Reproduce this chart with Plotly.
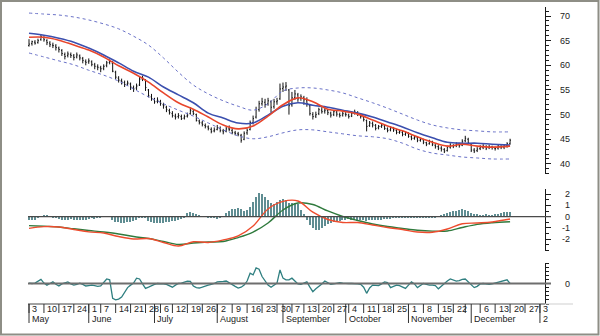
import pandas as pd
import plotly.graph_objects as go

# ---------------- daily price bars (trading-day index 0 = 3 May 1999) ----------------
OPEN = [64.0, 64.4, 64.7, 64.6, 65.2, 65.6, 65.0, 64.5, 64.1, 63.9,
        63.5, 63.0, 62.2, 62.0, 62.2, 61.9, 61.7, 61.9, 61.4, 60.8,
        60.7, 60.7, 60.1, 59.7, 59.5, 59.4, 60.0, 60.6, 60.4, 58.6,
        57.4, 56.9, 56.5, 56.2, 56.2, 55.5, 55.4, 56.0, 57.2, 57.0,
        55.0, 53.6, 53.0, 52.7, 52.6, 52.0, 51.5, 50.8, 50.2, 49.7,
        49.6, 49.6, 49.3, 49.7, 50.2, 50.6, 50.0, 48.7, 48.3, 47.8,
        47.5, 47.0, 46.7, 47.0, 47.2, 46.7, 46.6, 47.1, 46.8, 46.3,
        46.1, 45.8, 45.0, 46.3, 47.0, 48.4, 49.5, 51.0, 52.2, 52.5,
        52.2, 52.6, 51.6, 52.6, 53.2, 55.3, 55.6, 55.0, 52.0, 53.5,
        54.0, 53.3, 53.4, 52.8, 51.8, 50.0, 49.7, 50.2, 50.9, 50.7,
        50.8, 50.3, 50.0, 50.5, 50.0, 49.9, 50.1, 49.9, 49.7, 50.3,
        50.4, 49.9, 49.5, 48.8, 47.8, 48.2, 47.8, 47.3, 47.6, 47.7,
        47.1, 46.9, 47.2, 46.8, 46.4, 46.4, 46.0, 46.2, 45.5, 45.2,
        45.3, 44.8, 44.9, 44.3, 44.1, 44.5, 43.8, 43.5, 43.2, 42.9,
        42.7, 43.4, 43.7, 43.7, 43.9, 43.8, 44.7, 45.0, 44.0, 42.8,
        42.7, 43.1, 43.3, 43.5, 43.3, 43.4, 43.2, 43.2, 43.5, 43.4,
        43.7, 44.1]
HIGH = [65.3, 65.0, 65.1, 65.4, 66.3, 65.9, 65.3, 64.9, 64.6, 64.3,
        63.8, 63.3, 62.6, 62.8, 62.6, 62.3, 62.6, 62.2, 61.7, 61.2,
        61.4, 61.0, 60.5, 60.2, 59.9, 60.2, 60.9, 61.2, 60.9, 58.9,
        57.8, 57.3, 56.9, 56.9, 56.5, 55.9, 56.3, 57.8, 57.9, 57.2,
        55.2, 54.2, 53.4, 53.5, 53.0, 52.4, 51.8, 51.2, 50.7, 50.2,
        50.3, 50.0, 50.0, 50.4, 51.5, 51.0, 50.2, 49.0, 48.7, 48.2,
        47.8, 47.4, 47.4, 47.9, 47.6, 47.1, 47.6, 47.8, 47.2, 46.7,
        46.5, 46.1, 46.6, 47.2, 48.8, 49.8, 51.6, 52.8, 53.4, 53.2,
        53.4, 52.9, 53.2, 53.4, 56.3, 56.5, 56.6, 55.2, 54.6, 55.0,
        54.4, 54.1, 53.8, 53.5, 52.0, 50.5, 50.6, 51.4, 51.5, 51.3,
        51.1, 50.6, 50.9, 50.8, 50.4, 50.6, 50.5, 50.2, 50.7, 51.0,
        50.7, 50.2, 49.7, 49.0, 48.7, 48.6, 48.1, 47.9, 48.3, 48.0,
        47.4, 47.6, 47.5, 47.1, 46.9, 46.7, 46.6, 46.4, 45.8, 45.7,
        45.5, 45.3, 45.1, 44.5, 44.9, 44.7, 44.0, 43.8, 43.6, 43.2,
        43.7, 44.2, 44.0, 44.4, 44.2, 45.0, 45.7, 45.3, 44.2, 43.2,
        43.4, 43.8, 44.0, 43.8, 43.9, 43.7, 43.5, 43.9, 43.8, 43.9,
        44.4, 45.1]
LOW = [63.8, 64.0, 64.2, 64.4, 65.0, 64.8, 64.1, 63.7, 63.5, 63.0,
       62.6, 61.9, 61.2, 61.6, 61.5, 61.0, 61.4, 61.0, 60.4, 60.0,
       60.3, 59.8, 59.2, 59.0, 58.6, 59.0, 59.6, 60.2, 58.6, 57.2,
       56.5, 56.1, 55.6, 55.8, 55.0, 54.6, 55.0, 55.8, 56.8, 54.8,
       53.5, 52.8, 52.2, 52.3, 51.8, 51.2, 50.5, 50.0, 49.4, 49.0,
       49.2, 48.9, 49.0, 49.4, 50.0, 49.9, 48.6, 48.0, 47.6, 47.2,
       46.8, 46.2, 46.4, 46.8, 46.4, 46.0, 46.4, 46.6, 46.0, 45.8,
       45.6, 44.3, 44.8, 45.9, 46.8, 48.0, 49.2, 50.6, 51.8, 51.4,
       51.8, 50.4, 51.2, 52.0, 53.0, 54.6, 54.8, 50.0, 51.6, 53.0,
       52.6, 52.8, 52.0, 51.6, 49.8, 49.0, 49.3, 49.9, 50.2, 50.2,
       49.9, 49.4, 49.7, 49.6, 49.4, 49.6, 49.6, 49.2, 49.5, 50.0,
       49.7, 49.2, 48.6, 46.6, 47.5, 47.4, 46.8, 47.0, 47.3, 46.9,
       46.4, 46.6, 46.5, 46.0, 46.1, 45.6, 45.7, 45.3, 44.8, 44.9,
       44.4, 44.5, 44.0, 43.6, 43.9, 43.6, 43.1, 42.8, 42.5, 42.2,
       42.5, 43.1, 43.2, 43.4, 43.3, 43.6, 44.4, 44.0, 42.4, 42.2,
       42.4, 42.8, 43.0, 42.8, 43.0, 42.9, 42.7, 42.9, 43.0, 43.0,
       43.3, 43.9]
CLOSE = [64.3, 64.8, 64.5, 65.0, 65.8, 65.2, 64.6, 64.2, 64.0, 63.6,
         63.2, 62.4, 61.8, 62.3, 62.0, 61.6, 62.1, 61.5, 61.0, 60.6,
         60.9, 60.2, 59.8, 59.6, 59.3, 59.8, 60.5, 60.8, 58.8, 57.6,
         57.0, 56.6, 56.1, 56.4, 55.6, 55.2, 55.8, 57.2, 57.4, 55.5,
         53.8, 53.2, 52.6, 52.9, 52.3, 51.8, 51.0, 50.4, 49.8, 49.5,
         49.8, 49.2, 49.6, 49.9, 50.8, 50.2, 48.8, 48.4, 48.0, 47.6,
         47.2, 46.6, 46.9, 47.3, 46.8, 46.5, 47.1, 47.0, 46.4, 46.2,
         46.0, 44.8, 46.2, 46.8, 48.4, 49.2, 51.0, 52.2, 52.6, 52.0,
         52.8, 51.5, 52.6, 52.8, 55.2, 55.6, 55.8, 51.8, 53.4, 54.2,
         53.2, 53.6, 53.0, 52.2, 50.2, 49.6, 50.0, 51.0, 50.6, 50.9,
         50.4, 49.9, 50.6, 50.1, 49.8, 50.2, 50.0, 49.6, 50.3, 50.5,
         50.0, 49.6, 49.0, 47.6, 48.3, 47.9, 47.2, 47.6, 47.8, 47.2,
         46.8, 47.3, 46.9, 46.4, 46.5, 46.0, 46.3, 45.6, 45.2, 45.4,
         44.8, 45.0, 44.4, 44.0, 44.6, 43.9, 43.5, 43.2, 43.0, 42.6,
         43.4, 43.8, 43.6, 44.0, 43.7, 44.6, 45.2, 44.3, 42.8, 42.6,
         43.0, 43.4, 43.6, 43.2, 43.5, 43.3, 43.1, 43.6, 43.4, 43.6,
         44.1, 44.8]

# ---------------- overlay lines, read every 5 trading days ----------------
STEP_IDX = [0, 5, 10, 15, 20, 25, 30, 35, 40, 45, 50, 55, 60, 65, 70, 75, 80,
            85, 90, 95, 100, 105, 110, 115, 120, 125, 130, 135, 140, 145, 150, 155, 161]
MA_FAST = [65.7, 65.7, 65.1, 64.1, 63.1, 61.7, 59.9, 58.4, 56.6, 54.4, 52.4,
           51.1, 49.5, 47.9, 47.1, 47.7, 49.7, 52.0, 53.4, 52.6, 51.1, 50.7,
           50.1, 48.9, 47.7, 46.7, 45.5, 44.4, 43.6, 44.0, 43.6, 43.4, 43.6]
MA_SLOW = [66.5, 66.1, 65.5, 64.7, 63.5, 62.1, 60.5, 58.8, 57.6, 55.6, 54.0,
           52.4, 50.3, 49.3, 48.3, 48.3, 49.9, 51.7, 52.4, 51.9, 51.5, 50.9,
           50.3, 49.5, 48.5, 47.5, 46.3, 45.3, 44.4, 44.2, 44.2, 44.0, 43.8]
BAND_UP = [70.6, 70.4, 70.2, 69.8, 69.2, 68.4, 67.4, 65.9, 64.1, 61.5, 58.6,
           56.0, 54.2, 52.8, 51.7, 50.9, 52.2, 54.8, 55.4, 55.4, 55.0, 54.4,
           53.4, 52.4, 51.3, 50.1, 48.9, 47.9, 47.3, 46.9, 46.7, 46.5, 46.5]
BAND_LO = [62.5, 61.7, 60.9, 60.1, 59.0, 58.0, 56.8, 55.2, 53.6, 52.2, 50.9,
           49.7, 48.3, 46.9, 45.7, 45.1, 45.5, 46.3, 46.9, 46.9, 46.5, 46.1,
           45.7, 45.5, 45.1, 44.2, 43.0, 42.2, 41.8, 41.4, 41.2, 41.0, 41.0]

# ---------------- MACD panel ----------------
MACD = [-1.04, -0.89, -0.92, -1.14, -1.35, -1.46, -1.77, -1.99, -1.95, -2.30, -2.62,
        -2.23, -2.30, -2.08, -1.72, -0.83, 0.69, 1.36, 1.40, 0.40, -0.25, -0.52,
        -0.52, -0.74, -0.96, -1.14, -1.37, -1.39, -1.10, -0.63, -0.56, -0.47, -0.21]
SIGNAL = [-0.80, -0.85, -0.92, -1.08, -1.23, -1.37, -1.54, -1.77, -1.95, -2.21, -2.48,
          -2.35, -2.26, -2.21, -1.86, -1.37, -0.56, 0.60, 1.22, 1.09, 0.51, 0.02,
          -0.34, -0.65, -0.88, -1.05, -1.21, -1.29, -1.28, -0.96, -0.68, -0.54, -0.45]
HIST = [-0.3, -0.25, -0.3, -0.15, 0.05, 0.1, 0.1, 0.02, -0.05, -0.1,
        -0.2, -0.25, -0.3, -0.25, -0.2, -0.25, -0.3, -0.3, -0.3, -0.25,
        -0.2, -0.15, -0.2, -0.15, -0.1, 0.0, 0.05, 0.0, -0.3, -0.45,
        -0.5, -0.55, -0.55, -0.5, -0.45, -0.35, -0.25, -0.1, -0.05, -0.1,
        -0.35, -0.5, -0.55, -0.6, -0.6, -0.55, -0.5, -0.45, -0.4, -0.35,
        -0.3, -0.2, -0.05, 0.3, 0.4, 0.35, 0.2, 0.1, 0.05, 0.0,
        -0.05, -0.1, -0.15, -0.2, -0.1, 0.05, 0.3, 0.55, 0.65, 0.7,
        0.75, 0.7, 0.55, 0.6, 0.9, 1.3, 1.8, 2.1, 2.0, 1.8,
        1.5, 1.2, 1.1, 1.3, 1.5, 1.55, 1.5, 1.2, 1.25, 1.2,
        1.1, 0.6, 0.2, -0.3, -0.7, -1.0, -1.2, -1.15, -1.0, -0.8,
        -0.65, -0.55, -0.5, -0.45, -0.35, -0.3, -0.25, -0.2, -0.25, -0.3,
        -0.35, -0.3, -0.3, -0.35, -0.3, -0.3, -0.25, -0.3, -0.25, -0.2,
        -0.2, -0.2, -0.15, -0.15, -0.15, -0.1, -0.15, -0.1, -0.1, -0.1,
        -0.1, -0.05, -0.05, -0.05, -0.05, -0.05, -0.05, -0.02, 0.1, 0.2,
        0.3, 0.45, 0.5, 0.55, 0.6, 0.65, 0.6, 0.5, 0.35, 0.25,
        0.2, 0.15, 0.15, 0.2, 0.15, 0.15, 0.2, 0.25, 0.3, 0.4,
        0.45, 0.45]

# ---------------- momentum panel ----------------
MOMENTUM = [0.1, 0.0, 0.1, 0.6, 1.0, 0.1, -0.4, 0.0, 0.4, -0.2,
            -0.6, -0.1, 0.1, 0.4, -0.1, -0.4, -0.2, 0.1, -0.2, -0.6,
            -0.5, -0.4, -0.5, -0.7, -0.6, 0.4, 1.1, 0.9, -3.6, -4.0,
            -3.8, -3.3, -2.1, -1.0, -0.4, 0.1, 1.3, 1.1, -0.1, -1.2,
            -0.9, -0.5, -0.2, 0.0, 0.0, -0.1, -0.2, -0.5, -0.9, -0.4,
            0.0, 0.1, 0.4, 0.6, 0.5, -0.6, -1.0, -1.1, -0.9, -0.6,
            -0.4, -0.2, 0.0, 0.4, 0.4, 0.5, 0.6, 0.1, -0.4, -0.7,
            -1.1, -0.9, -0.4, 0.6, 2.5, 2.1, 3.8, 3.5, 1.7, 0.6,
            -0.4, -0.9, -0.4, 0.1, 3.3, 1.3, 0.9, 0.9, 1.3, 0.5,
            -0.1, -0.2, 0.1, 0.4, -0.9, -2.0, -1.3, -0.8, -0.1, 0.6,
            0.2, -0.2, -0.1, 0.1, 0.2, 0.1, 0.0, 0.0, 0.0, 0.0,
            -0.1, -0.2, -0.9, -2.4, -1.1, -0.4, -0.4, -0.5, -0.1, 0.4,
            0.2, -1.0, -0.7, -0.4, -0.5, -0.9, -1.2, -0.4, 0.4, -0.1,
            -1.0, -0.5, 0.0, -0.2, -0.4, -0.4, -0.5, -1.3, -0.6, 0.0,
            0.6, 1.1, 0.9, 0.6, 0.7, 1.0, 1.1, 0.4, -0.4, -1.0,
            -0.7, -0.1, 0.0, -0.1, -0.2, -0.1, 0.1, 0.3, 0.5, 0.7,
            0.9, 0.0]

# ---------------- axis labels ----------------
PRICE_TICKS = [40, 45, 50, 55, 60, 65, 70]
MACD_TICKS = [-2, -1, 0, 1, 2]
MOM_TICKS = [0]

HOLIDAYS = ["1999-05-31", "1999-07-05", "1999-09-06", "1999-11-25"]
WEEK_TICKS = [("1999-05-03", "3"), ("1999-05-10", "10"), ("1999-05-17", "17"),
              ("1999-05-24", "24"), ("1999-06-01", "1"), ("1999-06-07", "7"),
              ("1999-06-14", "14"), ("1999-06-21", "21"), ("1999-06-28", "28"),
              ("1999-07-06", "6"), ("1999-07-12", "12"), ("1999-07-19", "19"),
              ("1999-07-26", "26"), ("1999-08-02", "2"), ("1999-08-09", "9"),
              ("1999-08-16", "16"), ("1999-08-23", "23"), ("1999-08-30", "30"),
              ("1999-09-07", "7"), ("1999-09-13", "13"), ("1999-09-20", "20"),
              ("1999-09-27", "27"), ("1999-10-04", "4"), ("1999-10-11", "11"),
              ("1999-10-18", "18"), ("1999-10-25", "25"), ("1999-11-01", "1"),
              ("1999-11-08", "8"), ("1999-11-15", "15"), ("1999-11-22", "22"),
              ("1999-11-29", ""), ("1999-12-06", "6"), ("1999-12-13", "13"),
              ("1999-12-20", "20"), ("1999-12-27", "27"), ("2000-01-03", "3")]
MONTH_TICKS = [("1999-05-03", "May"), ("1999-06-01", "June"), ("1999-07-01", "July"),
               ("1999-08-02", "August"), ("1999-09-01", "September"),
               ("1999-10-01", "October"), ("1999-11-01", "November"),
               ("1999-12-01", "December"), ("2000-01-03", "2")]

# ---------------- geometry helpers ----------------
W, H = 600, 336
X_LEFT, X_AXIS = 28, 545
PX_PER_DAY = 2.988


def py(p):
    """pixel row -> paper y"""
    return 1 - p / H


def px(p):
    """pixel column -> paper x"""
    return p / W


days = pd.bdate_range("1999-05-03", "2000-01-31")
days = [d for d in days if d.strftime("%Y-%m-%d") not in HOLIDAYS]
POS = {d.strftime("%Y-%m-%d"): i for i, d in enumerate(days)}
idx = list(range(len(CLOSE)))

FONT = "Liberation Sans, Arial, sans-serif"
AXIS_COLOR = "#1a1a1a"

fig = go.Figure()

# price panel
fig.add_trace(go.Scatter(x=STEP_IDX, y=BAND_UP, mode="lines", line=dict(color="#6a72c8", width=1, dash="dot", shape="spline"), yaxis="y"))
fig.add_trace(go.Scatter(x=STEP_IDX, y=BAND_LO, mode="lines", line=dict(color="#6a72c8", width=1, dash="dot", shape="spline"), yaxis="y"))
fig.add_trace(go.Scatter(x=STEP_IDX, y=MA_SLOW, mode="lines", line=dict(color="#3b4fae", width=1.6, shape="spline"), yaxis="y"))
fig.add_trace(go.Scatter(x=STEP_IDX, y=MA_FAST, mode="lines", line=dict(color="#e8462c", width=1.6, shape="spline"), yaxis="y"))
fig.add_trace(go.Ohlc(x=idx, open=OPEN, high=HIGH, low=LOW, close=CLOSE, yaxis="y",
                      increasing=dict(line=dict(color="#111111", width=1)),
                      decreasing=dict(line=dict(color="#111111", width=1)),
                      tickwidth=0.3))

# MACD panel
fig.add_trace(go.Bar(x=idx, y=HIST, marker=dict(color="#5f8d92", line=dict(width=0)), width=0.5, yaxis="y2"))
fig.add_trace(go.Scatter(x=STEP_IDX, y=SIGNAL, mode="lines", line=dict(color="#2f7a3d", width=1.4, shape="spline"), yaxis="y2"))
fig.add_trace(go.Scatter(x=STEP_IDX, y=MACD, mode="lines", line=dict(color="#ee4c2e", width=1.4, shape="spline"), yaxis="y2"))

# momentum panel
fig.add_trace(go.Scatter(x=idx, y=MOMENTUM, mode="lines", line=dict(color="#2f7f80", width=1.3), yaxis="y3"))

x_lo = -(29 - X_LEFT) / PX_PER_DAY
x_hi = x_lo + (X_AXIS - X_LEFT) / PX_PER_DAY


def yaxis(dom, rng, major, minor_dt):
    return dict(domain=dom, range=rng, side="right", anchor="x",
                showline=True, linecolor=AXIS_COLOR, linewidth=1,
                ticks="outside", ticklen=5, tickcolor=AXIS_COLOR, tickwidth=1,
                tickvals=major, showticklabels=False, showgrid=False, zeroline=False,
                minor=dict(ticks="outside", ticklen=3, tickcolor=AXIS_COLOR, dtick=minor_dt, tick0=0, showgrid=False))


shapes = []
annotations = []

# zero lines
shapes.append(dict(type="line", xref="paper", yref="y2", x0=px(X_LEFT), x1=px(551), y0=0, y1=0, line=dict(color="#4a4a4a", width=1.2)))
shapes.append(dict(type="line", xref="paper", yref="y3", x0=px(X_LEFT), x1=px(551), y0=0, y1=0, line=dict(color="#6e6e6e", width=2)))

# date strip
shapes.append(dict(type="line", xref="paper", yref="paper", x0=px(X_LEFT), x1=px(X_AXIS), y0=py(304), y1=py(304), line=dict(color="#444444", width=1)))
shapes.append(dict(type="line", xref="paper", yref="paper", x0=px(X_AXIS), x1=px(573), y0=py(304), y1=py(304), line=dict(color="#cfcfcf", width=1)))
for d, lab in WEEK_TICKS:
    xi = POS[d]
    shapes.append(dict(type="line", xref="x", yref="paper", x0=xi, x1=xi, y0=py(304), y1=py(313), line=dict(color="#333333", width=1)))
    if lab:
        annotations.append(dict(x=xi + 0.5, y=py(309), xref="x", yref="paper", text=lab, showarrow=False,
                                xanchor="left", yanchor="middle", font=dict(size=9, color="#222222", family=FONT)))
for d, lab in MONTH_TICKS:
    xi = POS[d]
    shapes.append(dict(type="line", xref="x", yref="paper", x0=xi, x1=xi, y0=py(304), y1=py(323), line=dict(color="#333333", width=1)))
    annotations.append(dict(x=xi + 0.3, y=py(318.5), xref="x", yref="paper", text=lab, showarrow=False,
                            xanchor="left", yanchor="middle", font=dict(size=9, color="#222222", family=FONT)))

# right-hand value labels
for ref, vals in (("y", PRICE_TICKS), ("y2", MACD_TICKS), ("y3", MOM_TICKS)):
    for v in vals:
        annotations.append(dict(x=px(572), y=v, xref="paper", yref=ref, text=str(v), showarrow=False,
                                xanchor="right", yanchor="middle", font=dict(size=9, color="#222222", family=FONT)))

# outer frame
shapes.append(dict(type="rect", xref="paper", yref="paper", x0=px(1), x1=px(598.5), y0=py(334.5), y1=py(1),
                   line=dict(color="#8e8e86", width=2)))

fig.update_layout(
    width=W, height=H, margin=dict(l=0, r=0, t=0, b=0),
    paper_bgcolor="white", plot_bgcolor="white", showlegend=False,
    bargap=0,
    xaxis=dict(domain=[px(X_LEFT), px(X_AXIS)], range=[x_lo, x_hi], visible=False,
               rangeslider=dict(visible=False), anchor="y3"),
    yaxis=yaxis([py(174), py(7)], [37.95, 71.83], PRICE_TICKS, 1),
    yaxis2=yaxis([py(251), py(189)], [-3.06, 2.47], MACD_TICKS, 0.5),
    yaxis3=yaxis([py(304), py(263)], [-5, 5], MOM_TICKS, 1),
    shapes=shapes, annotations=annotations,
    font=dict(family=FONT, size=9, color="#222222"),
)

fig.write_html("out.html")
